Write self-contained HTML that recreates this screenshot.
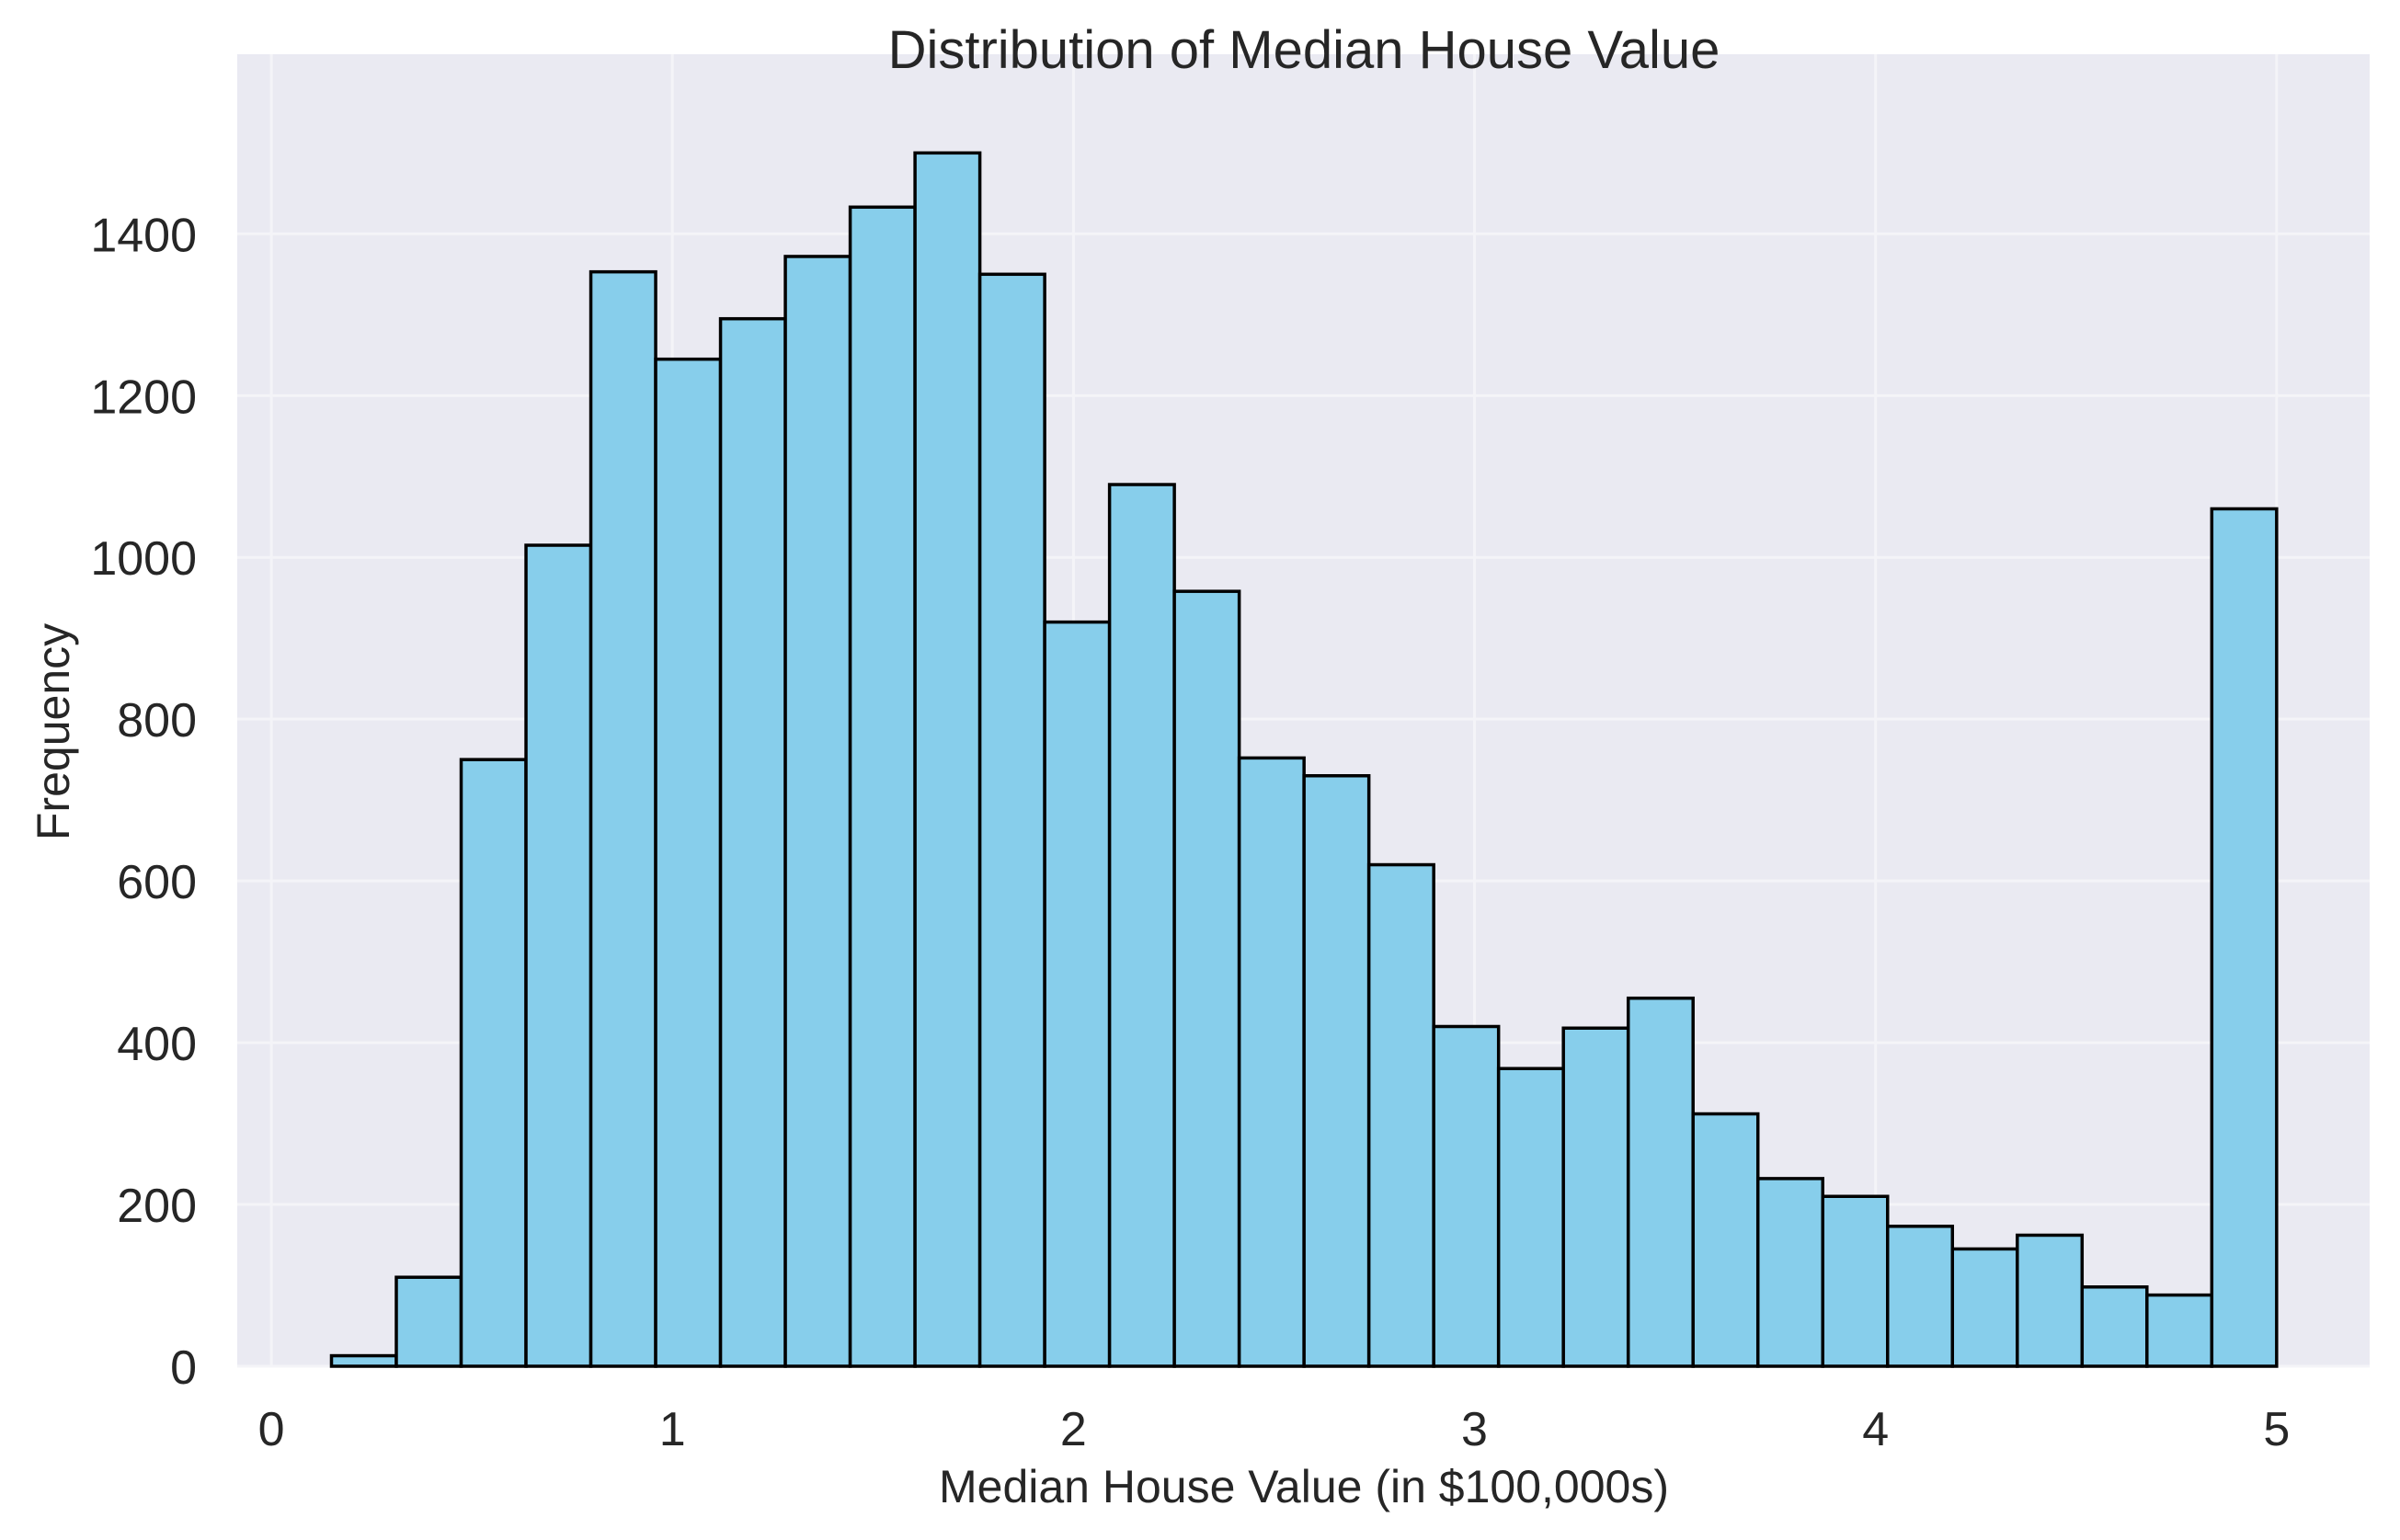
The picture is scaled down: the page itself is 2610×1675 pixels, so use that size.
<!DOCTYPE html>
<html><head><meta charset="utf-8"><style>
html,body{margin:0;padding:0;background:#fff;}
svg text{font-family:"Liberation Sans",Arial,sans-serif;fill:#262626;}
</style></head><body>
<svg id="chart" width="2610" height="1670" viewBox="0 0 2610 1670" xmlns="http://www.w3.org/2000/svg">
<rect x="0" y="0" width="2610" height="1670" fill="#fff"/>
<rect x="258" y="59" width="2319" height="1427" fill="#eaeaf2"/>
<g id="grid"></g>
<g id="bars"></g>
<g id="ticks"></g>
<text x="1418" y="74" text-anchor="middle" font-size="58">Distribution of Median House Value</text>
<text x="1418" y="1634" text-anchor="middle" font-size="50">Median House Value (in $100,000s)</text>
<text transform="translate(75,796) rotate(-90)" text-anchor="middle" font-size="50">Frequency</text>
</svg>
<script>
const binStart = 0.14999;
const binEnd = 5.00001;
const counts = [13,110,750,1015,1353,1245,1295,1372,1433,1500,1350,920,1090,958,752,730,620,420,368,418,455,312,232,210,173,145,162,98,88,1060];
const xTicks = [0,1,2,3,4,5];
const yTicks = [0,200,400,600,800,1000,1200,1400];

const L=258,R=2577,T=59,B=1486;
const xMin=-0.085,xMax=5.232,yMin=0,yMax=1622;
const sx=v=>L+(v-xMin)/(xMax-xMin)*(R-L);
const sy=v=>B-(v-yMin)/(yMax-yMin)*(B-T);
const NS="http://www.w3.org/2000/svg";
function mk(tag,attrs,parent){const e=document.createElementNS(NS,tag);for(const k in attrs)e.setAttribute(k,attrs[k]);parent.appendChild(e);return e;}
const grid=document.getElementById('grid'),bars=document.getElementById('bars'),ticks=document.getElementById('ticks');
xTicks.forEach(t=>{
  const g=mk('line',{x1:sx(t),x2:sx(t),y1:T,y2:B,stroke:'#f4f4f8','stroke-width':3},grid);
  
  
  const tx=mk('text',{x:sx(t),y:1572,'text-anchor':'middle','font-size':52},ticks);
  tx.textContent=t;
  
  
});
yTicks.forEach(t=>{
  const g=mk('line',{x1:L,x2:R,y1:sy(t),y2:sy(t),stroke:'#f4f4f8','stroke-width':3},grid);
  
  
  const tx=mk('text',{x:214,y:sy(t)+19,'text-anchor':'end','font-size':52},ticks);
  tx.textContent=t;
  
  
});
const w=(binEnd-binStart)/counts.length;
counts.forEach((c,i)=>{
  const x0=sx(binStart+i*w),x1=sx(binStart+(i+1)*w);
  const r=mk('rect',{x:x0,y:sy(c),width:x1-x0,height:sy(0)-sy(c),fill:'#87ceeb',stroke:'#000','stroke-width':3.5},bars);
  
  
});
</script>
</body></html>
